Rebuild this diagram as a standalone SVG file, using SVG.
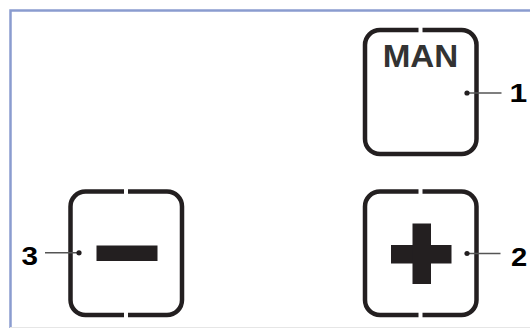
<svg xmlns="http://www.w3.org/2000/svg" width="530" height="328" viewBox="0 0 530 328">
  <style>
    .frame { fill: none; stroke: #8a9ccf; stroke-width: 2.5; }
    .box { fill: none; stroke: #231f20; stroke-width: 4.5; stroke-linecap: butt; }
    .lead { stroke: #555; stroke-width: 1.6; fill: none; }
    .dot { fill: #231f20; }
    .num { font-family: "Liberation Sans", Arial, sans-serif; font-weight: bold; font-size: 26.5px; fill: #000; }
    .man { font-family: "Liberation Sans", Arial, sans-serif; font-weight: bold; font-size: 31px; fill: #333; text-anchor: middle; }
    .sym { fill: #231f20; }
  </style>
  <defs>
    <g id="splitBox">
      <path class="box" d="M422.5,191.5 H461.5 A15,15 0 0 1 476.5,206.5 V300 A15,15 0 0 1 461.5,315 H422.5"/>
      <path class="box" d="M418.5,315 H380 A15,15 0 0 1 365,300 V206.5 A15,15 0 0 1 380,191.5 H418.5"/>
    </g>
  </defs>
  <rect width="530" height="328" fill="#fff"/>
  <path class="frame" d="M10.5,328 V10.5 H530"/>
  <line x1="10" y1="327.5" x2="530" y2="327.5" stroke="#e6e6e6" stroke-width="1"/>

  <g id="node-man">
    <path class="box" d="M422.5,30 H461.5 A15,15 0 0 1 476.5,45 V139 A15,15 0 0 1 461.5,154 H380 A15,15 0 0 1 365,139 V45 A15,15 0 0 1 380,30 H418.5"/>
    <text class="man" transform="translate(420.5,67) scale(1.07,1)">MAN</text>
  </g>

  <g id="node-plus">
    <use href="#splitBox"/>
    <rect class="sym" x="391" y="245" width="60.5" height="18.5"/>
    <rect class="sym" x="412.5" y="223.5" width="18.5" height="60.5"/>
  </g>

  <g id="node-minus">
    <use href="#splitBox" transform="translate(-294.5,0)"/>
    <rect class="sym" x="96.5" y="245.5" width="61" height="15.5"/>
  </g>

  <g id="connectors">
    <line class="lead" x1="467" y1="93" x2="501.5" y2="93"/>
    <circle class="dot" cx="467" cy="93" r="2.6"/>
    <line class="lead" x1="467" y1="253.5" x2="500.5" y2="253.5"/>
    <circle class="dot" cx="467" cy="253.5" r="2.6"/>
    <line class="lead" x1="45" y1="252.8" x2="79" y2="252.8"/>
    <circle class="dot" cx="79" cy="252.8" r="2.6"/>
  </g>

  <g id="labels">
    <text class="num" transform="translate(509.5,101.5) scale(1.2,1)">1</text>
    <text class="num" transform="translate(511,265.5) scale(1.1,1)">2</text>
    <text class="num" transform="translate(21.5,265) scale(1.12,1)">3</text>
  </g>
</svg>
